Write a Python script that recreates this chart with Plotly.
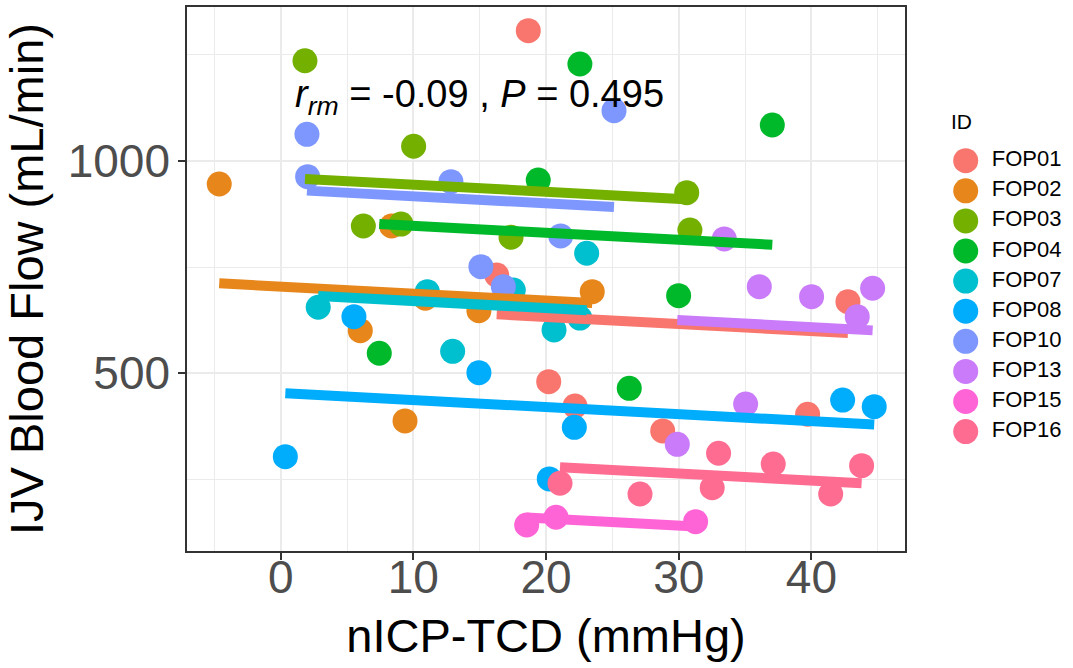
import plotly.graph_objects as go

# Subjects and their colours
subjects = ["FOP01", "FOP02", "FOP03", "FOP04", "FOP07",
            "FOP08", "FOP10", "FOP13", "FOP15", "FOP16"]
colors = ["#F8766D", "#E7861B", "#73B000", "#00B92A", "#00BFCE",
          "#00ACFC", "#7D97FF", "#C97BF9", "#FF64D7", "#FF6C91"]

# nICP-TCD (mmHg) per subject
nicp = {
    "FOP01": [18.66, 16.28, 20.2, 22.18, 28.79, 39.71, 42.75],
    "FOP02": [-4.63, 8.36, 6.0, 10.9, 14.94, 9.37, 23.48],
    "FOP03": [1.83, 10.02, 6.23, 9.07, 17.36, 30.6, 30.84],
    "FOP04": [22.55, 37.05, 19.41, 29.99, 7.43, 26.27],
    "FOP07": [2.83, 11.05, 12.96, 17.53, 20.6, 22.55, 23.06],
    "FOP08": [5.52, 14.94, 0.35, 22.13, 20.24, 42.35, 44.73],
    "FOP10": [1.98, 2.03, 12.83, 15.09, 16.78, 25.12, 21.1],
    "FOP13": [33.43, 36.07, 40.01, 44.61, 43.45, 35.04, 29.89],
    "FOP15": [18.54, 20.75, 31.27],
    "FOP16": [21.05, 27.08, 33.0, 32.52, 37.12, 41.45, 43.78],
}

# IJV blood flow (mL/min) per subject
ijv = {
    "FOP01": [1305.7, 731, 480.4, 423, 364.5, 403.7, 668.5],
    "FOP02": [945.2, 846.5, 600.3, 676.5, 647.3, 388, 692],
    "FOP03": [1235, 1033.9, 846.5, 851, 820, 924.8, 837],
    "FOP04": [1227.4, 1084, 954.6, 682.6, 547.2, 464.8],
    "FOP07": [655.3, 692, 551.8, 696, 602, 630, 782.3],
    "FOP08": [633.2, 501.5, 304, 373, 251.6, 437, 421.6],
    "FOP10": [1062, 962.4, 950.6, 750.8, 703.7, 1117.6, 823],
    "FOP13": [816, 703.7, 680.2, 700, 633.2, 427.9, 333],
    "FOP15": [143.4, 161.6, 151.2],
    "FOP16": [241.5, 216.3, 312, 231, 286.8, 216.3, 282.9],
}

# Repeated-measures correlation fit: common slope, subject intercepts
rm_slope = -1.654
rm_intercepts = [665.7, 704.0, 960.0, 863.5, 686.6,
                 453.7, 932.9, 674.8, 191.5, 313.9]
rm_label = "<i>r</i><sub><i>rm</i></sub> = -0.09 , <i>P</i> = 0.495"

x_ticks = [0, 10, 20, 30, 40]
y_ticks = [500, 1000]

FONT = "Liberation Sans, Arial, sans-serif"
fig = go.Figure()

# points
for s, c in zip(subjects, colors):
    fig.add_trace(go.Scatter(
        x=nicp[s], y=ijv[s], mode="markers", name=s,
        marker=dict(size=25, color=c, line=dict(width=0)),
        showlegend=False, hoverinfo="x+y+name"))

# per-subject fitted lines over each subject's x range
for s, c, b in zip(subjects, colors, rm_intercepts):
    xs = [min(nicp[s]), max(nicp[s])]
    ys = [b + rm_slope * v for v in xs]
    fig.add_trace(go.Scatter(
        x=xs, y=ys, mode="lines", line=dict(color=c, width=10),
        showlegend=False, hoverinfo="skip"))

# legend drawn on its own hidden axes (units = pixels)
lg_x, lg_top, lg_step = 965.7, 160.7, 30.1
lg_y = [lg_top + i * lg_step for i in range(len(subjects))]
fig.add_trace(go.Scatter(
    x=[lg_x] * len(subjects), y=lg_y, mode="markers",
    marker=dict(size=25, color=colors), xaxis="x2", yaxis="y2",
    showlegend=False, hoverinfo="skip"))
fig.add_trace(go.Scatter(
    x=[lg_x + 26] * len(subjects), y=lg_y, mode="text", text=subjects,
    textposition="middle right",
    textfont=dict(family=FONT, size=22, color="black"),
    xaxis="x2", yaxis="y2", showlegend=False, hoverinfo="skip"))
fig.add_trace(go.Scatter(
    x=[951], y=[124], mode="text", text=["ID"], textposition="middle right",
    textfont=dict(family=FONT, size=21, color="black"),
    xaxis="x2", yaxis="y2", showlegend=False, hoverinfo="skip"))

fig.add_annotation(x=15, y=1150, text=rm_label, showarrow=False,
                   xanchor="center", yanchor="middle",
                   font=dict(family=FONT, size=38, color="black"))

axis_common = dict(
    showline=True, mirror=True, linecolor="#333333", linewidth=1.5,
    ticks="outside", ticklen=7, tickwidth=1.5, tickcolor="#333333",
    zeroline=False, showgrid=True, gridcolor="#EBEBEB", gridwidth=2,
    tickfont=dict(family=FONT, size=46, color="#4D4D4D"),
)

W, H = 1073, 668
ml, mt, mb = 187, 7, 117
panel_right = 905
plot_w = W - ml

fig.update_layout(
    width=W, height=H,
    margin=dict(l=ml, r=0, t=mt, b=mb, pad=0),
    paper_bgcolor="white", plot_bgcolor="white",
    showlegend=False,
    xaxis=dict(
        domain=[0, (panel_right - ml) / plot_w], range=[-7.06, 47.05],
        tickvals=x_ticks, ticklabelstandoff=-22,
        minor=dict(dtick=5, tick0=0, showgrid=True, gridcolor="#EBEBEB",
                   gridwidth=1),
        title=dict(text="nICP-TCD (mmHg)", standoff=17,
                   font=dict(family=FONT, size=47, color="black")),
        **axis_common),
    yaxis=dict(
        domain=[0, 1], range=[82.2, 1361.4],
        tickvals=y_ticks, ticklabelstandoff=-1,
        minor=dict(dtick=250, tick0=0, showgrid=True, gridcolor="#EBEBEB",
                   gridwidth=1),
        title=dict(text="IJV Blood Flow (mL/min)", standoff=11,
                   font=dict(family=FONT, size=47, color="black")),
        **axis_common),
    xaxis2=dict(domain=[(940 - ml) / plot_w, 1], range=[940, W],
                anchor="y2", visible=False, fixedrange=True),
    yaxis2=dict(domain=[0, 1], range=[H - mb, mt], anchor="x2",
                visible=False, fixedrange=True),
)

fig.write_html("out.html")
